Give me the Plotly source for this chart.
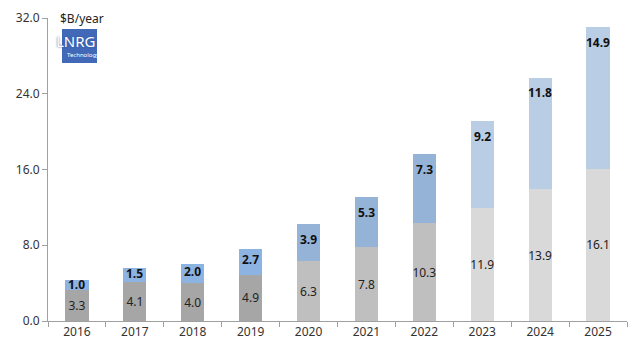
import plotly.graph_objects as go

years = ["2016", "2017", "2018", "2019", "2020", "2021", "2022", "2023", "2024", "2025"]
base_vals = [3.3, 4.1, 4.0, 4.9, 6.3, 7.8, 10.3, 11.9, 13.9, 16.1]
top_vals = [1.0, 1.5, 2.0, 2.7, 3.9, 5.3, 7.3, 9.2, 11.8, 14.9]
y_ticks = [0, 8, 16, 24, 32]

base_colors = ["#a6a6a6"] * 4 + ["#bfbfbf"] * 3 + ["#d9d9d9"] * 3
top_colors = ["#8db3e2"] * 4 + ["#95b3d7"] * 3 + ["#b9cde5"] * 3

FONT = "Noto Sans"
L, R, T, B = 48, 13, 18, 39
PW, PH = 640 - L - R, 360 - T - B


def px(x):
    return (x - L) / PW


def py(y):
    return (360 - B - y) / PH


fig = go.Figure()
fig.add_trace(go.Bar(x=years, y=base_vals, marker=dict(color=base_colors, line=dict(width=0)),
                     text=[f"{v:.1f}" for v in base_vals], textposition="inside", textangle=0,
                     insidetextanchor="middle", constraintext="none",
                     textfont=dict(family=FONT, size=12, color="#222")))
fig.add_trace(go.Bar(x=years, y=top_vals, marker=dict(color=top_colors, line=dict(width=0))))

for i, (b, t) in enumerate(zip(base_vals, top_vals)):
    fig.add_annotation(x=i, y=b + t - min(t * 0.4, 1.6), text=f"<b>{t:.1f}</b>", showarrow=False,
                       yanchor="middle", font=dict(family=FONT, size=12, color="#111"))

fig.update_layout(
    barmode="stack", bargap=0.6, showlegend=False,
    width=640, height=360,
    margin=dict(l=L, r=R, t=T, b=B, autoexpand=False),
    plot_bgcolor="white", paper_bgcolor="white",
    font=dict(family=FONT, size=12, color="#333"),
)
fig.update_xaxes(type="category", range=[-0.5, len(years) - 0.5], showline=True, automargin=False,
                 linecolor="#a0a0a0", linewidth=1, ticks="outside",
                 tickson="boundaries", ticklen=5, tickcolor="#a0a0a0", showgrid=False,
                 tickfont=dict(size=12, color="#333"))
fig.update_yaxes(range=[0, 32], tickvals=y_ticks, ticktext=[f"{v:.1f}" for v in y_ticks],
                 showline=True, linecolor="#a0a0a0", linewidth=1, ticks="outside", automargin=False,
                 ticklen=5, tickcolor="#a0a0a0", showgrid=False, zeroline=False,
                 tickfont=dict(size=12, color="#333"))

fig.add_annotation(xref="paper", yref="paper", x=px(58), y=py(18), xanchor="left", yanchor="middle",
                   text="$B/year", showarrow=False, font=dict(family=FONT, size=12, color="#222"))

# logo
fig.add_shape(type="rect", xref="paper", yref="paper", x0=px(62), x1=px(97),
              y0=py(63), y1=py(29), fillcolor="#4169b8", line=dict(width=0))
fig.add_annotation(xref="paper", yref="paper", x=px(76), y=py(41), xanchor="center", yanchor="middle",
                   text="LNRG", showarrow=False,
                   font=dict(family=FONT, size=15, color="white", shadow="0px 0px 2px #2b4f9e"))
fig.add_annotation(xref="paper", yref="paper", x=px(83), y=py(55), xanchor="center", yanchor="middle",
                   text="Technology", showarrow=False, font=dict(family=FONT, size=6, color="white"))

fig.write_html("out.html", config={"displayModeBar": False},
               post_script="document.body.style.margin='0';")
